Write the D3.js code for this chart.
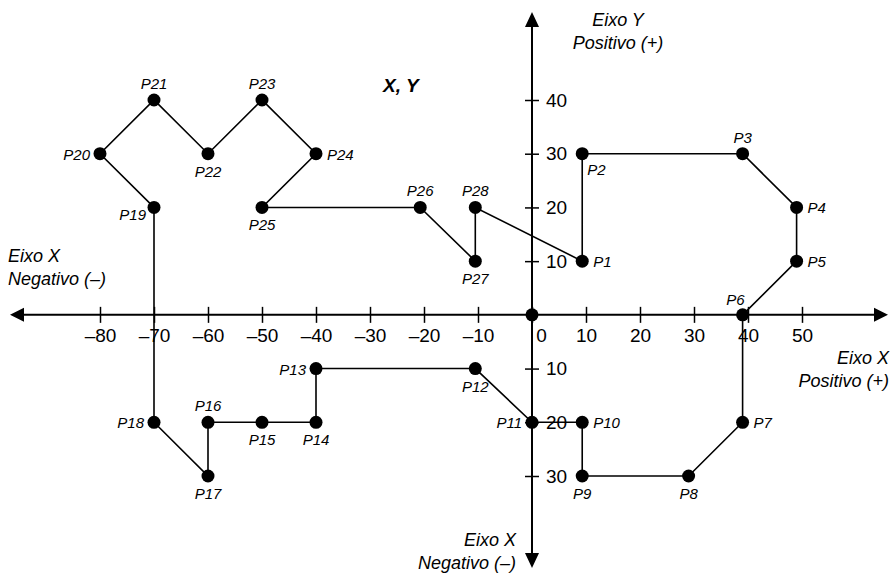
<!DOCTYPE html>
<html>
<head>
<meta charset="utf-8">
<script src="https://d3js.org/d3.v7.min.js"></script>
<style>
  body { margin: 0; background: #fff; }
  text { font-family: "Liberation Sans", Arial, sans-serif; fill: #000; }
</style>
</head>
<body>
<script>
// points, in drawing order (the path closes back on P1)
var names = ["P1","P2","P3","P4","P5","P6","P7","P8","P9","P10","P11","P12","P13","P14",
             "P15","P16","P17","P18","P19","P20","P21","P22","P23","P24","P25","P26","P27","P28"];
var xs = [9.3, 9.3, 39, 49, 49, 39, 39, 29, 9.3, 9.3, 0, -10.5, -40, -40,
          -50, -60, -60, -70, -70, -80, -70, -60, -50, -40, -50, -20.7, -10.5, -10.5];
var ys = [10, 30, 30, 20, 10, 0, -20, -30, -30, -20, -20, -10, -10, -20,
          -20, -20, -30, -20, 20, 30, 40, 30, 40, 30, 20, 20, 10, 20];
// where each label sits around its point
var labelSide = ["r","br","t","r","r","tl","r","b","b","r","l","b","l","b",
                 "b","t","b","l","bl","l","t","b","t","r","b","t","b","t"];

var xTicks = [-80, -70, -60, -50, -40, -30, -20, -10, 0, 10, 20, 30, 40, 50];
var yTicks = [40, 30, 20, 10, -10, -20, -30];

var width = 892, height = 574;

var svg = d3.select("body").append("svg")
    .attr("width", width)
    .attr("height", height);

var x = d3.scaleLinear().domain([-80, 50]).range([100, 802]);
var y = d3.scaleLinear().domain([-30, 40]).range([476, 100]);

var x0 = x(0), y0 = y(0);

// axis lines with arrow heads
svg.append("line")
    .attr("x1", 20).attr("x2", 878)
    .attr("y1", y0).attr("y2", y0)
    .attr("stroke", "#000").attr("stroke-width", 2);
svg.append("line")
    .attr("x1", x0).attr("x2", x0)
    .attr("y1", 22).attr("y2", 558)
    .attr("stroke", "#000").attr("stroke-width", 2);

var arrows = [
  [[10, y0], [24, y0 - 7], [24, y0 + 7]],
  [[888, y0], [874, y0 - 7], [874, y0 + 7]],
  [[x0, 12], [x0 - 7, 27], [x0 + 7, 27]],
  [[x0, 568], [x0 - 7, 553], [x0 + 7, 553]]
];
svg.selectAll("path.arrow")
    .data(arrows)
    .enter().append("path")
    .attr("class", "arrow")
    .attr("d", function (d) { return "M" + d.join("L") + "Z"; })
    .attr("fill", "#000");

function fmt(v) {
  return v < 0 ? "\u2013" + Math.abs(v) : String(v);
}

// x ticks
var xAxis = d3.axisBottom(x)
    .tickValues(xTicks)
    .tickSize(8)
    .tickPadding(6)
    .tickFormat(fmt);
var gx = svg.append("g")
    .attr("transform", "translate(0," + y0 + ")")
    .call(xAxis);
gx.select(".domain").remove();
gx.selectAll(".tick line").attr("y1", -8).attr("stroke-width", 1.5);
gx.selectAll(".tick text")
    .style("font-size", "19px")
    .attr("dx", function (d) { return d === 0 ? 9 : 0; });

// y ticks (values below the origin are printed without sign)
var yAxis = d3.axisRight(y)
    .tickValues(yTicks)
    .tickSize(7)
    .tickPadding(7)
    .tickFormat(function (d) { return Math.abs(d); });
var gy = svg.append("g")
    .attr("transform", "translate(" + x0 + ",0)")
    .call(yAxis);
gy.select(".domain").remove();
gy.selectAll(".tick line").attr("x1", -7).attr("stroke-width", 1.5);
gy.selectAll(".tick text").style("font-size", "19px");

// the polygon
var pts = names.map(function (n, i) {
  return { name: n, x: xs[i], y: ys[i], side: labelSide[i] };
});

var line = d3.line()
    .x(function (d) { return x(d.x); })
    .y(function (d) { return y(d.y); })
    .curve(d3.curveLinearClosed);

svg.append("path")
    .datum(pts)
    .attr("d", line)
    .attr("fill", "none")
    .attr("stroke", "#000")
    .attr("stroke-width", 1.6);

// origin dot
svg.append("circle")
    .attr("cx", x0).attr("cy", y0).attr("r", 6.5)
    .attr("fill", "#000");

svg.selectAll("circle.pt")
    .data(pts)
    .enter().append("circle")
    .attr("class", "pt")
    .attr("cx", function (d) { return x(d.x); })
    .attr("cy", function (d) { return y(d.y); })
    .attr("r", 6.5)
    .attr("fill", "#000");

var offs = {
  r:  [11, 6, "start"],
  l:  [-10, 6, "end"],
  t:  [0, -11, "middle"],
  b:  [0, 23, "middle"],
  br: [5, 21, "start"],
  tl: [2, -10, "end"],
  bl: [-8, 13, "end"]
};

svg.selectAll("text.pl")
    .data(pts)
    .enter().append("text")
    .attr("class", "pl")
    .attr("x", function (d) { return x(d.x) + offs[d.side][0]; })
    .attr("y", function (d) { return y(d.y) + offs[d.side][1]; })
    .attr("text-anchor", function (d) { return offs[d.side][2]; })
    .style("font-size", "15px")
    .style("font-style", "italic")
    .text(function (d) { return d.name; });

// axis names
function title(lines, tx, ty, anchor) {
  var t = svg.append("text")
      .attr("x", tx).attr("y", ty)
      .attr("text-anchor", anchor)
      .style("font-size", "18px")
      .style("font-style", "italic");
  lines.forEach(function (s, i) {
    t.append("tspan").attr("x", tx).attr("dy", i ? 23 : 0).text(s);
  });
}
title(["Eixo Y", "Positivo (+)"], 618, 26, "middle");
title(["Eixo X", "Negativo (\u2013)"], 8, 262, "start");
title(["Eixo X", "Positivo (+)"], 889, 364, "end");
title(["Eixo X", "Negativo (\u2013)"], 516, 546, "end");

svg.append("text")
    .attr("x", 383).attr("y", 92)
    .style("font-size", "19px")
    .style("font-style", "italic")
    .style("font-weight", "bold")
    .text("X, Y");
</script>
</body>
</html>
